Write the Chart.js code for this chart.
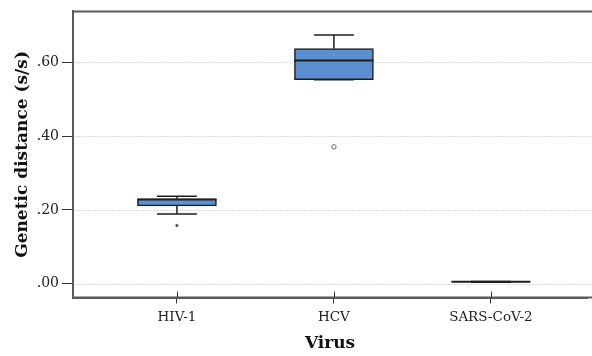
<!DOCTYPE html>
<html>
<head>
<meta charset="utf-8">
<script src="https://cdn.jsdelivr.net/npm/chart.js@4"></script>
<style>
html,body{margin:0;padding:0;background:#fff;}
#wrap{width:592px;height:356px;position:relative;}
</style>
</head>
<body>
<div id="wrap"><canvas id="c" width="592" height="356"></canvas></div>
<script>
// ---- data ----
const categories = ['HIV-1', 'HCV', 'SARS-CoV-2'];
const whiskerLow  = [0.189, 0.553, 0.004];
const q1          = [0.211, 0.553, 0.0053];
const median      = [0.228, 0.605, 0.0053];
const q3          = [0.230, 0.637, 0.0053];
const whiskerHigh = [0.237, 0.674, 0.0062];
const outlierCategory = [0, 1];
const outlierValue    = [0.158, 0.371];
const yTickValues = [0, 0.2, 0.4, 0.6];

const serif = '"DejaVu Serif", serif';

const boxData = categories.map((c, i) => ({ x: i, y: [q1[i], q3[i]] }));
const outlierData = outlierCategory.map((c, i) => ({ x: c, y: outlierValue[i] }));

const boxPlugin = {
  id: 'boxParts',
  beforeDatasetsDraw(chart) {
    const ctx = chart.ctx, a = chart.chartArea, ys = chart.scales.y;
    ctx.save();
    ctx.strokeStyle = '#dadada';
    ctx.lineWidth = 1;
    ctx.setLineDash([2, 1]);
    yTickValues.forEach(v => {
      const y = Math.round(ys.getPixelForValue(v)) + 0.5;
      ctx.beginPath();
      ctx.moveTo(a.left, y); ctx.lineTo(chart.width, y);
      ctx.stroke();
    });
    ctx.restore();
  },
  afterDatasetsDraw(chart) {
    const ctx = chart.ctx, xs = chart.scales.x, ys = chart.scales.y;
    const boxW = 79, capW = 40;
    ctx.save();
    ctx.strokeStyle = '#1e1e1e';
    categories.forEach((c, i) => {
      const cx = xs.getPixelForValue(i);
      const yMed = ys.getPixelForValue(median[i]);
      const yQ1 = ys.getPixelForValue(q1[i]);
      const yQ3 = ys.getPixelForValue(q3[i]);
      const yLo = ys.getPixelForValue(whiskerLow[i]);
      const yHi = ys.getPixelForValue(whiskerHigh[i]);
      ctx.lineWidth = 1.5;
      ctx.beginPath();
      ctx.moveTo(cx, yQ3); ctx.lineTo(cx, yHi);
      ctx.moveTo(cx - capW / 2, yHi); ctx.lineTo(cx + capW / 2, yHi);
      ctx.moveTo(cx, yQ1); ctx.lineTo(cx, yLo);
      ctx.moveTo(cx - capW / 2, yLo); ctx.lineTo(cx + capW / 2, yLo);
      ctx.stroke();
      ctx.lineWidth = 2;
      ctx.beginPath();
      ctx.moveTo(cx - boxW / 2, yMed); ctx.lineTo(cx + boxW / 2, yMed);
      ctx.stroke();
    });
    ctx.restore();
  },
  afterDraw(chart) {
    const ctx = chart.ctx, a = chart.chartArea, xs = chart.scales.x;
    ctx.save();
    ctx.strokeStyle = '#5a5a5a';
    ctx.lineWidth = 2;
    ctx.beginPath();
    ctx.moveTo(a.left, a.bottom); ctx.lineTo(a.left, a.top); ctx.lineTo(chart.width, a.top);
    ctx.moveTo(a.left, a.bottom); ctx.lineTo(chart.width, a.bottom);
    ctx.stroke();
    ctx.strokeStyle = '#333';
    ctx.lineWidth = 1;
    categories.forEach((c, i) => {
      const cx = Math.round(xs.getPixelForValue(i)) + 0.5;
      ctx.beginPath();
      ctx.moveTo(cx, a.bottom - 6); ctx.lineTo(cx, a.bottom);
      ctx.stroke();
    });
    ctx.restore();
  }
};

new Chart(document.getElementById('c'), {
  type: 'bar',
  data: {
    datasets: [
      {
        type: 'bar',
        data: boxData,
        backgroundColor: '#5B8FCF',
        borderColor: '#1e1e1e',
        borderWidth: 1.5,
        borderSkipped: false,
        barThickness: 79,
        order: 2
      },
      {
        type: 'scatter',
        data: outlierData,
        pointRadius: [1.2, 2.2],
        pointBorderWidth: [0.8, 1],
        pointBackgroundColor: ['#555', '#ffffff'],
        pointBorderColor: ['#555', '#666'],
        order: 1
      }
    ]
  },
  options: {
    responsive: false,
    animation: false,
    layout: { padding: { top: 11, left: 0, right: 0, bottom: 0 } },
    plugins: { legend: { display: false }, tooltip: { enabled: false } },
    scales: {
      x: {
        type: 'linear',
        offset: false,
        min: -0.662,
        max: 2.612,
        afterFit(s) { s.height = 58.5; s.paddingRight = 0; s.paddingLeft = 0; },
        afterBuildTicks(s) { s.ticks = categories.map((c, i) => ({ value: i })); },
        ticks: {
          callback: (v) => categories[v],
          font: { family: serif, size: 13.5 },
          color: '#222',
          padding: 6,
          maxRotation: 0,
          autoSkip: false
        },
        grid: {
          offset: false,
          drawOnChartArea: false,
          drawTicks: true,
          tickLength: 6,
          tickColor: '#333',
          tickWidth: 1
        },
        border: { display: true, color: '#5a5a5a', width: 2 },
        title: {
          display: true,
          text: 'Virus',
          font: { family: serif, size: 17, weight: 'bold' },
          color: '#111',
          padding: { top: 3, bottom: 2 }
        }
      },
      y: {
        min: -0.0373,
        max: 0.738,
        afterFit(s) { s.width = 73; },
        afterBuildTicks(s) { s.ticks = yTickValues.map(v => ({ value: v })); },
        ticks: {
          callback: (v) => v.toFixed(2).replace(/^0/, ''),
          font: { family: serif, size: 14 },
          color: '#222',
          padding: 3
        },
        grid: {
          drawOnChartArea: false,
          drawTicks: true,
          tickLength: 11,
          tickColor: '#333',
          tickWidth: 1
        },
        border: { display: true, color: '#5a5a5a', width: 2 },
        title: {
          display: true,
          text: 'Genetic distance (s/s)',
          font: { family: serif, size: 17, weight: 'bold' },
          color: '#111',
          padding: { top: 12, bottom: 0 }
        }
      }
    }
  },
  plugins: [boxPlugin]
});
</script>
</body>
</html>
